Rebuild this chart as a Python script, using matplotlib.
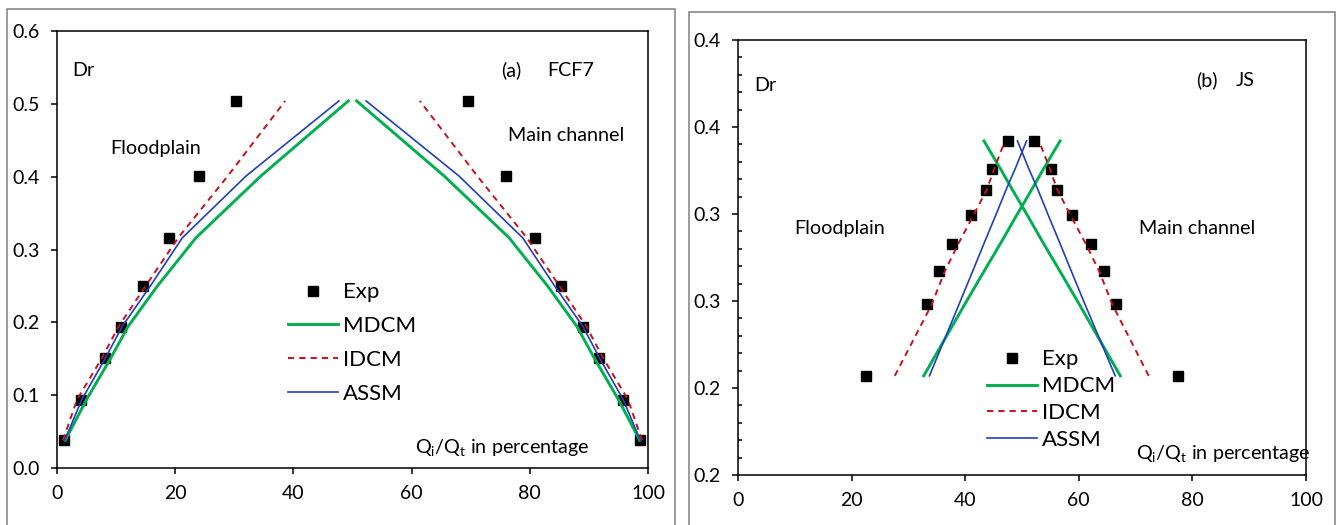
import matplotlib
matplotlib.use("Agg")
import matplotlib.pyplot as plt
from matplotlib.patches import Rectangle
from matplotlib.ticker import MultipleLocator

plt.rcParams['font.family'] = ['Lato', 'DejaVu Sans']

# (a) FCF7
dr_a = [0.038, 0.094, 0.151, 0.194, 0.250, 0.316, 0.401, 0.504]
exp_fp_a = [1.1, 4.1, 8.2, 10.8, 14.6, 19.0, 24.0, 30.3]
exp_mc_a = [98.7, 95.7, 91.7, 89.0, 85.2, 80.9, 75.9, 69.6]
mdcm_fp_a = [1.4, 5.0, 9.1, 12.0, 17.0, 23.5, 34.5, 49.3]
mdcm_mc_a = [98.6, 95.0, 90.9, 88.0, 83.0, 76.5, 65.5, 50.7]
idcm_fp_a = [1.0, 3.4, 7.6, 10.4, 15.0, 20.5, 28.9, 38.6]
idcm_mc_a = [99.0, 96.6, 92.4, 89.6, 85.0, 79.5, 71.1, 61.4]
assm_fp_a = [1.3, 4.2, 8.2, 11.0, 15.8, 21.2, 32.0, 47.7]
assm_mc_a = [98.7, 95.8, 91.8, 89.0, 84.2, 78.8, 68.0, 52.3]

# (b) JS
dr_b = [0.207, 0.248, 0.267, 0.283, 0.2995, 0.314, 0.326, 0.342]
exp_fp_b = [22.5, 33.2, 35.3, 37.7, 41.0, 43.7, 44.8, 47.5]
exp_mc_b = [77.4, 66.6, 64.4, 62.2, 58.8, 56.1, 55.1, 52.2]
mdcm_fp_b = [32.7, 39.9, 43.3, 46.2, 49.1, 51.7, 53.8, 56.7]
mdcm_mc_b = [67.3, 60.1, 56.7, 53.8, 50.9, 48.3, 46.2, 43.3]
idcm_fp_b = [27.6, 34.1, 36.4, 38.8, 41.5, 43.8, 45.1, 47.0]
idcm_mc_b = [72.3, 65.9, 63.6, 61.2, 58.5, 56.2, 54.9, 53.0]
assm_fp_b = [33.7, 38.9, 41.3, 43.3, 45.4, 47.2, 48.8, 50.8]
assm_mc_b = [66.4, 61.1, 58.7, 56.7, 54.6, 52.8, 51.2, 49.2]

xticks = [0, 20, 40, 60, 80, 100]
yticks_a = [0.0, 0.1, 0.2, 0.3, 0.4, 0.5, 0.6]
yticks_b = [0.15, 0.20, 0.25, 0.30, 0.35, 0.40]
ylabels_b = ['0.2', '0.2', '0.3', '0.3', '0.4', '0.4']

GREEN = '#00B050'
RED = '#C8101A'
BLUE = '#1F3FC0'
qlabel = r'$\mathregular{Q_i/Q_t}$ in percentage'

fig = plt.figure(figsize=(13.4, 5.25), dpi=100)

# outer chart frames
for x0, x1, top in [(7, 675, 9), (689, 1335, 12)]:
    fig.patches.append(Rectangle((x0 / 1340, -0.05), (x1 - x0) / 1340, 1.05 - top / 525,
                                 transform=fig.transFigure, fill=False,
                                 edgecolor='#808080', linewidth=1.1))

ax1 = fig.add_axes([57 / 1340, 1 - 468 / 525, 591 / 1340, 437 / 525])
ax2 = fig.add_axes([738 / 1340, 1 - 475 / 525, 568 / 1340, 435 / 525])


def draw(ax, dr, efp, emc, mfp, mmc, ifp, imc, afp, amc):
    ax.plot(efp, dr, 's', color='black', ms=7, label='Exp')
    ax.plot(emc, dr, 's', color='black', ms=7)
    ax.plot(mfp, dr, color=GREEN, lw=2.1, label='MDCM')
    ax.plot(mmc, dr, color=GREEN, lw=2.1)
    ax.plot(ifp, dr, color=RED, lw=1.4, dashes=(3.2, 2.6), label='IDCM')
    ax.plot(imc, dr, color=RED, lw=1.4, dashes=(3.2, 2.6))
    ax.plot(afp, dr, color=BLUE, lw=1.2, label='ASSM')
    ax.plot(amc, dr, color=BLUE, lw=1.2)
    ax.set_xlim(0, 100)
    ax.set_xticks(xticks)
    for s in ax.spines.values():
        s.set_linewidth(1.1)
    ax.tick_params(axis='both', which='major', direction='out', length=4.5, width=1.1,
                   labelsize=14)
    ax.tick_params(axis='y', pad=8)
    ax.tick_params(axis='x', pad=8)


draw(ax1, dr_a, exp_fp_a, exp_mc_a, mdcm_fp_a, mdcm_mc_a, idcm_fp_a, idcm_mc_a, assm_fp_a, assm_mc_a)
ax1.set_ylim(0, 0.6)
ax1.set_yticks(yticks_a)
ax1.set_yticklabels(['%.1f' % v for v in yticks_a])

draw(ax2, dr_b, exp_fp_b, exp_mc_b, mdcm_fp_b, mdcm_mc_b, idcm_fp_b, idcm_mc_b, assm_fp_b, assm_mc_b)
ax2.set_ylim(0.15, 0.40)
ax2.set_yticks(yticks_b)
ax2.set_yticklabels(ylabels_b)
ax2.yaxis.set_minor_locator(MultipleLocator(0.01))
ax2.tick_params(axis='y', which='minor', direction='in', length=3, width=1.1)

fs = 14.2
ax1.text(2.5, 0.546, 'Dr', fontsize=fs, va='center')
ax1.text(75.1, 0.546, '(a)', fontsize=fs, va='center')
ax1.text(82.9, 0.546, 'FCF7', fontsize=fs, va='center')
ax1.text(9.0, 0.439, 'Floodplain', fontsize=fs, va='center')
ax1.text(76.3, 0.456, 'Main channel', fontsize=fs, va='center')
ax1.text(60.6, 0.0275, qlabel, fontsize=fs, va='center')

ax2.text(2.8, 0.374, 'Dr', fontsize=fs, va='center')
ax2.text(80.7, 0.377, '(b)', fontsize=fs, va='center')
ax2.text(87.7, 0.377, 'JS', fontsize=fs, va='center')
ax2.text(9.9, 0.2914, 'Floodplain', fontsize=fs, va='center')
ax2.text(70.6, 0.2914, 'Main channel', fontsize=fs, va='center')
ax2.text(70.1, 0.1626, qlabel, fontsize=fs, va='center')

ax1.legend(loc='upper left', bbox_to_anchor=(0.391, 0.4247), frameon=False, fontsize=16,
           borderpad=0, borderaxespad=0, handlelength=2.25, handletextpad=0.23,
           labelspacing=0.62, numpoints=1)
ax2.legend(loc='upper left', bbox_to_anchor=(0.438, 0.2887), frameon=False, fontsize=16,
           borderpad=0, borderaxespad=0, handlelength=2.25, handletextpad=0.23,
           labelspacing=0.31, numpoints=1)

fig.savefig('out.png', dpi=100, facecolor='white')
